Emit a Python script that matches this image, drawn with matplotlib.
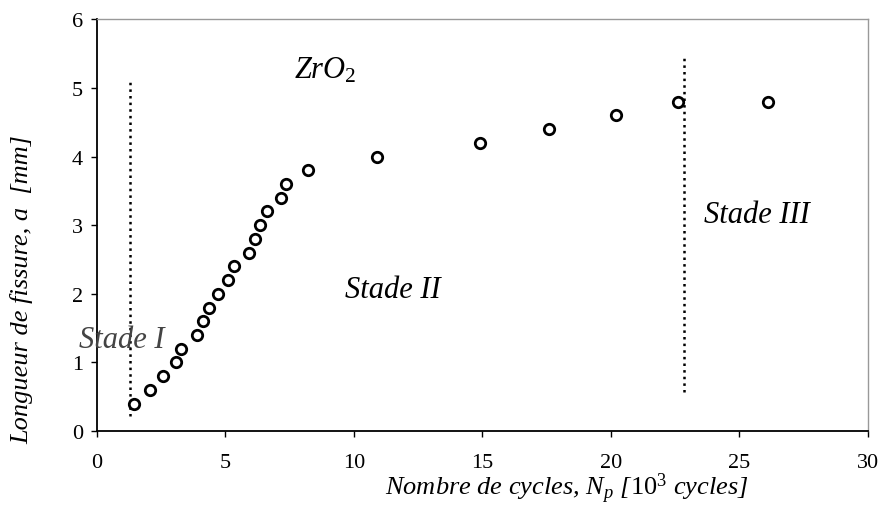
import numpy as np
import matplotlib
matplotlib.use("Agg")
from matplotlib import pyplot as plt

# data
N = [1.44, 2.06, 2.58, 3.07, 3.27, 3.88, 4.11, 4.37, 4.70, 5.11, 5.34,
     5.93, 6.15, 6.34, 6.60, 7.16, 7.35, 8.22, 10.9, 14.9, 17.6, 20.2,
     22.6, 26.1]
a = [0.4, 0.6, 0.8, 1.0, 1.2, 1.4, 1.6, 1.8, 2.0, 2.2, 2.4,
     2.6, 2.8, 3.0, 3.2, 3.4, 3.6, 3.8, 4.0, 4.2, 4.4, 4.6,
     4.8, 4.8]

# stage limits (x, ymin, ymax)
limit1 = (1.28, 0.22, 5.1)
limit2 = (22.84, 0.57, 5.45)

plt.rcParams['font.family'] = ['Liberation Serif', 'DejaVu Serif']
plt.rcParams['mathtext.fontset'] = 'custom'
plt.rcParams['mathtext.it'] = 'Liberation Serif:italic'
plt.rcParams['mathtext.rm'] = 'Liberation Serif'

fig = plt.figure(figsize=(8.81, 5.06), dpi=100)
ax = fig.add_axes([0.110, 0.146, 0.875, 0.814])

ax.plot(N, a, 'o', mfc='white', mec='black', ms=7.5, mew=2.0, zorder=3)
ax.vlines(limit1[0], limit1[1], limit1[2], colors='black', linestyles=':', lw=1.8)
ax.vlines(limit2[0], limit2[1], limit2[2], colors='black', linestyles=':', lw=1.8)

ax.text(8.9, 5.27, r'$ZrO_2$', fontsize=22, ha='center', va='center')
ax.text(0.97, 1.34, 'Stade I', fontsize=22, style='italic', ha='center', va='center',
        color='#444444', clip_on=False)
ax.text(11.5, 2.07, 'Stade II', fontsize=22, style='italic', ha='center', va='center')
ax.text(25.7, 3.16, 'Stade III', fontsize=22, style='italic', ha='center', va='center')

ax.set_xlim(0, 30)
ax.set_ylim(0, 6)
ax.set_xticks(range(0, 31, 5))
ax.set_yticks(range(0, 7))
ax.tick_params(labelsize=16, direction='out', length=4, width=1)
ax.tick_params(axis='x', pad=12)
ax.tick_params(axis='y', pad=6)
for s in ['left', 'bottom']:
    ax.spines[s].set_linewidth(1.3)
for s in ['top', 'right']:
    ax.spines[s].set_color('#999999')
    ax.spines[s].set_linewidth(1.0)

ax.set_xlabel(r'Nombre de cycles, $N_p$ [$10^3$ cycles]', fontsize=19, style='italic',
              va='center')
ax.set_ylabel('Longueur de fissure, a  [mm]', fontsize=19, style='italic', va='center')
ax.xaxis.set_label_coords(0.61, -0.138)
ax.yaxis.set_label_coords(-0.097, 0.345)

plt.savefig("out.png", dpi=100)
